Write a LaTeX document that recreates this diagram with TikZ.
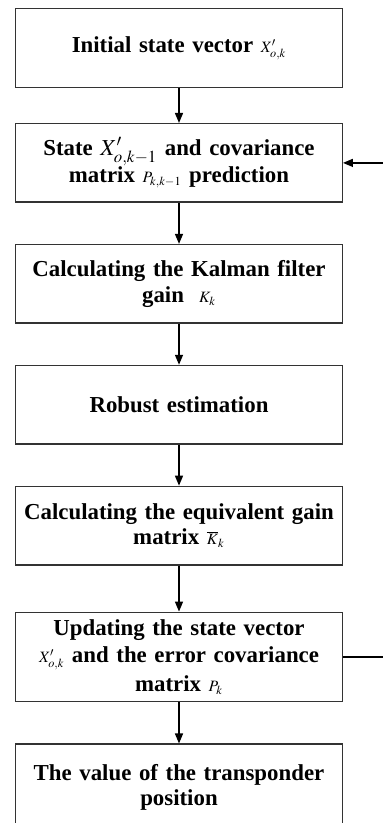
\documentclass[tikz,border=0pt]{standalone}
\usepackage{amsmath}
\usepackage{mathptmx}
\usepackage{fontspec}
\setmainfont{Liberation Serif}
\usepackage{tikz}
\usetikzlibrary{arrows.meta,positioning}

\begin{document}
\begin{tikzpicture}[
      stage/.style={
        draw=black!80,
        line width=0.8pt,
        minimum width=6.53cm,
        minimum height=1.57cm,
        text width=6.3cm,
        align=center,
        inner sep=0pt,
        font=\fontsize{13}{14.6}\selectfont\bfseries
      },
      flow/.style={-{Triangle[length=2mm,width=1.6mm]}, line width=0.8pt},
      node distance=0.82cm
    ]
    \useasboundingbox (0,0) rectangle (7.64,-16.46);

    \node[stage] (init) at (3.58,-0.96) {Initial state vector {\small$X'_{o,k}$}};
    \node[stage, below=0.7cm of init] (predict)
      {State $X'_{o,k-1}$ and covariance\\ matrix {\small$P_{k,k-1}$} prediction};
    \node[stage, below=of predict] (gain)
      {Calculating the Kalman filter\\ gain \ {\small$K_k$}};
    \node[stage, below=of gain] (robust) {Robust estimation};
    \node[stage, below=of robust] (eqgain)
      {Calculating the equivalent gain\\ matrix {\small$\overline{K}_k$}};
    \node[stage, below=0.92cm of eqgain, minimum height=1.79cm] (update)
      {Updating the state vector\\[1pt] {\small$X'_{o,k}$} and the error covariance\\[2pt] matrix {\small$P_k$}};
    \node[stage, below=of update, minimum height=1.73cm] (result)
      {The value of the transponder\\ position};

    \draw[flow] (init) -- (predict);
    \draw[flow] (predict) -- (gain);
    \draw[flow] (gain) -- (robust);
    \draw[flow] (robust) -- (eqgain);
    \draw[flow] (eqgain) -- (update);
    \draw[flow] (update) -- (result);
    % loop back, its vertical part lies past the right edge
    \draw[flow] (update.east) -- ++(0.9,0) |- (predict.east);
  \end{tikzpicture}
\end{document}
